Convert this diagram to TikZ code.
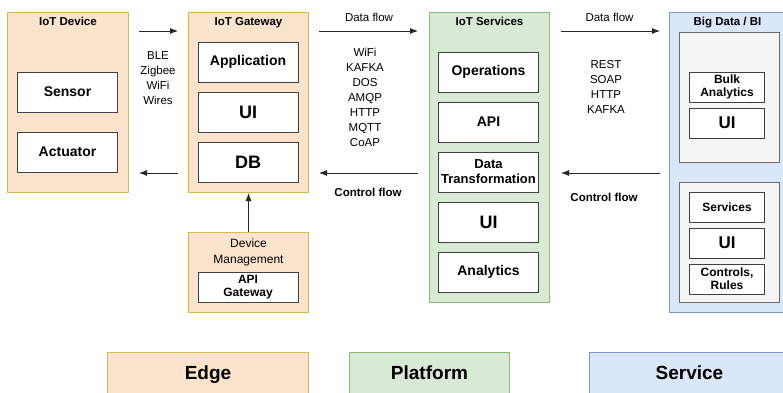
\documentclass[tikz,border=0pt]{standalone}
\usepackage{fontspec}
\setmainfont{Liberation Sans}
\usetikzlibrary{arrows.meta,positioning}
\definecolor{edgeFill}{HTML}{FCE4CC}
\definecolor{edgeLine}{HTML}{D6B656}
\definecolor{platFill}{HTML}{D8EAD5}
\definecolor{platLine}{HTML}{8DB878}
\definecolor{servFill}{HTML}{DAE7F8}
\definecolor{servLine}{HTML}{7B9CC9}
\definecolor{greyFill}{HTML}{F5F5F5}
\definecolor{greyLine}{HTML}{6B6B6B}
\tikzset{
  edgezone/.style={rectangle, draw=edgeLine, fill=edgeFill, line width=1pt, anchor=north west, inner sep=0pt},
  platzone/.style={rectangle, draw=platLine, fill=platFill, line width=1pt, anchor=north west, inner sep=0pt},
  servzone/.style={rectangle, draw=servLine, fill=servFill, line width=1pt, anchor=north west, inner sep=0pt},
  greyzone/.style={rectangle, draw=greyLine, fill=greyFill, line width=0.8pt, anchor=north west, inner sep=0pt},
  block/.style={rectangle, draw=black!75, fill=white, line width=1pt, minimum width=100pt, minimum height=40pt, inner sep=1pt, align=center, font=\bfseries\fontsize{14}{16}\selectfont},
  bigblock/.style={block, font=\bfseries\fontsize{18}{20}\selectfont},
  smallblock/.style={block, minimum width=75pt, minimum height=30pt, font=\bfseries\fontsize{12}{13}\selectfont},
  zonetitle/.style={font=\bfseries\fontsize{11.5}{13}\selectfont, anchor=north, inner sep=0pt},
  proto/.style={align=center, font=\fontsize{11.5}{15}\selectfont},
  flowlabel/.style={font=\fontsize{11.5}{13}\selectfont},
  arrow/.style={-{Latex[length=8pt,width=6pt]}, line width=0.9pt, draw=black!85},
  layer/.style={rectangle, line width=1pt, anchor=north west, minimum height=44pt, text height=14pt, text depth=4pt, font=\bfseries\fontsize{19}{21}\selectfont}
}

\begin{document}
\begin{tikzpicture}[x=1pt, y=-1pt, node distance=9pt]
  \useasboundingbox (0,0) rectangle (783,392);

  % zones
  \node[edgezone, minimum width=121pt, minimum height=180pt] (device) at (7,12) {};
  \node[edgezone, minimum width=120pt, minimum height=180pt] (gateway) at (188,12) {};
  \node[edgezone, minimum width=120pt, minimum height=80pt] (devmgmt) at (188,232) {};
  \node[platzone, minimum width=120pt, minimum height=290pt] (services) at (429,12) {};
  \node[servzone, minimum width=116pt, minimum height=300pt] (bigdata) at (669,12) {};
  \node[greyzone, minimum width=100pt, minimum height=130pt] (batch) at (679,32) {};
  \node[greyzone, minimum width=100pt, minimum height=120pt] (online) at (679,182) {};

  \node[zonetitle] (devicetitle) at ([yshift=-5pt]device.north) {IoT Device};
  \node[zonetitle] (gatewaytitle) at ([yshift=-5pt]gateway.north) {IoT Gateway};
  \node[zonetitle] (servicestitle) at ([yshift=-5pt]services.north) {IoT Services};
  \node[zonetitle] (bigdatatitle) at ([yshift=-5pt]bigdata.north) {Big Data / BI};
  \node[zonetitle, align=center, font=\fontsize{12}{16}\selectfont] (devmgmttitle) at ([yshift=-7pt]devmgmt.north) {Device\\Management};

  % IoT device
  \node[block] (sensor) at (67.5,92) {Sensor};
  \node[block, below=19pt of sensor] (actuator) {Actuator};

  % IoT gateway
  \node[block] (app) at (248,62) {Application};
  \node[bigblock, below=of app] (gwui) {UI};
  \node[bigblock, below=of gwui] (db) {DB};
  \node[block, minimum height=30pt, font=\bfseries\fontsize{12}{13}\selectfont] (apigw) at (248,287) {API\\Gateway};

  % IoT services
  \node[block] (ops) at (488.5,72) {Operations};
  \node[block, below=of ops] (api) {API};
  \node[block, below=of api, font=\bfseries\fontsize{13}{15}\selectfont] (transform) {Data\\Transformation};
  \node[bigblock, below=of transform] (svcui) {UI};
  \node[block, below=of svcui] (analytics) {Analytics};

  % big data / BI
  \node[smallblock] (bulk) at (727,87) {Bulk\\Analytics};
  \node[smallblock, below=5pt of bulk, font=\bfseries\fontsize{17}{19}\selectfont] (bulkui) {UI};
  \node[smallblock] (bisvc) at (727,207) {Services};
  \node[smallblock, below=5pt of bisvc, font=\bfseries\fontsize{17}{19}\selectfont] (biui) {UI};
  \node[smallblock, below=5pt of biui] (rules) {Controls,\\Rules};

  % flows
  \draw[arrow, shorten <=10pt, shorten >=10pt] ([yshift=-19pt]device.north east) -- ([yshift=-19pt]gateway.north west);
  \draw[arrow, shorten <=10pt, shorten >=10pt] ([yshift=20pt]gateway.south west) -- ([yshift=20pt]device.south east);
  \node[proto] (radio) at (158,78) {BLE\\Zigbee\\WiFi\\Wires};

  \draw[arrow, shorten <=10pt, shorten >=11pt] ([yshift=-19pt]gateway.north east) -- node[flowlabel, above=6pt] (flow1) {Data flow} ([yshift=-19pt]services.north west);
  \coordinate (cf1) at ([yshift=20pt]gateway.south east);
  \draw[arrow, shorten <=11pt, shorten >=10pt] (services.west |- cf1) -- (cf1);
  \node[proto] (proto1) at (365,97) {WiFi\\KAFKA\\DOS\\AMQP\\HTTP\\MQTT\\CoAP};
  \node[flowlabel, font=\bfseries\fontsize{11.5}{13}\selectfont] (ctrl1) at (368,192) {Control flow};

  \draw[arrow, shorten <=11pt, shorten >=9pt] ([yshift=-19pt]services.north east) -- node[flowlabel, above=6pt] (flow2) {Data flow} ([yshift=-19pt]bigdata.north west);
  \draw[arrow, shorten <=9pt, shorten >=11pt] (bigdata.west |- cf1) -- (services.east |- cf1);
  \node[proto] (proto2) at (606,87) {REST\\SOAP\\HTTP\\KAFKA};
  \node[flowlabel, font=\bfseries\fontsize{11.5}{13}\selectfont] (ctrl2) at (604,197) {Control flow};

  \draw[arrow] (devmgmt.north) -- (gateway.south);

  % layers
  \node[layer, draw=edgeLine, fill=edgeFill, minimum width=201pt] (edge) at (107,352) {Edge};
  \node[layer, draw=platLine, fill=platFill, minimum width=160pt] (platform) at (349,352) {Platform};
  \node[layer, draw=servLine, fill=servFill, minimum width=200pt] (service) at (589,352) {Service};
\end{tikzpicture}
\end{document}
